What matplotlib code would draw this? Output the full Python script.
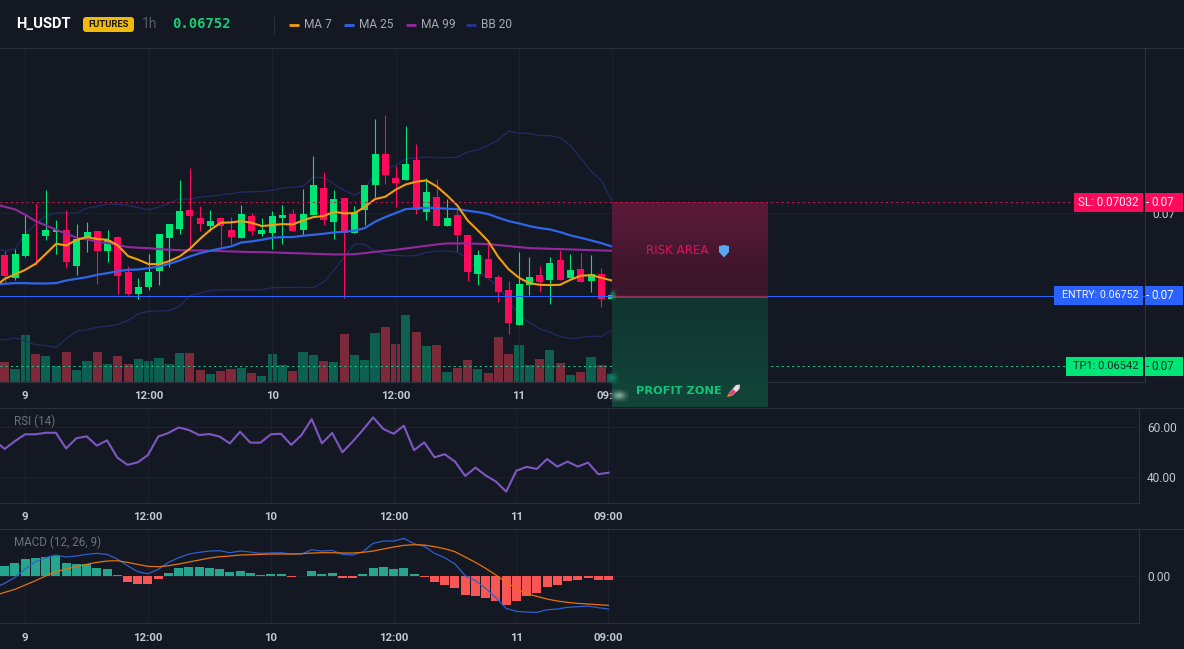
import numpy as np
import matplotlib
matplotlib.use('Agg')
import matplotlib.pyplot as plt
from matplotlib.patches import FancyBboxPatch, Polygon, Rectangle

W, H = 1184, 649

TICK = 1e-5  # prices below are whole ticks of 0.00001

SL = 0.07032
ENTRY = 0.06752
TP = 0.06542
ZONE_FLOOR = 0.06418
ZONE_END = 72.1

# hours counted from the start of day 9; the indicator lines start one bar earlier
bars = np.arange(-2, 58)
line_bars = np.arange(-3, 58)

opens = [6873, 6805, 6870, 6935, 6930, 6942, 6948, 6841, 6928, 6945,
         6886, 6927, 6822, 6757, 6777, 6826, 6925, 6951, 7008, 6984,
         6960, 6984, 6948, 6925, 6990, 6938, 6939, 6985, 6996, 6948,
         6993, 7076, 6973, 7046, 6940, 7008, 7083, 7176, 7106, 7098,
         7160, 7003, 7049, 6960, 6995, 6933, 6817, 6861, 6807, 6768,
         6663, 6783, 6813, 6798, 6858, 6804, 6831, 6795, 6816, 6742]
highs = [6886, 6893, 6998, 7030, 7068, 6978, 7010, 6968, 6972, 6945,
         6950, 6930, 6840, 6804, 6878, 6938, 6966, 7100, 7136, 7020,
         7008, 6988, 6988, 7025, 7000, 6986, 7005, 7025, 7013, 7073,
         7170, 7122, 7068, 7046, 7020, 7083, 7281, 7293, 7140, 7260,
         7206, 7106, 7101, 7043, 7013, 6933, 6888, 6908, 6813, 6795,
         6882, 6868, 6841, 6868, 6888, 6876, 6881, 6873, 6834, 6783]
lows = [6793, 6798, 6868, 6843, 6920, 6876, 6835, 6814, 6883, 6788,
        6853, 6758, 6753, 6742, 6768, 6783, 6838, 6936, 6898, 6946,
        6946, 6900, 6906, 6925, 6933, 6930, 6891, 6906, 6946, 6933,
        6993, 6965, 6923, 6746, 6940, 6963, 7048, 7088, 7018, 7098,
        6998, 6978, 6960, 6960, 6886, 6796, 6784, 6805, 6733, 6638,
        6663, 6753, 6762, 6728, 6798, 6804, 6794, 6762, 6718, 6742]
closes = [6811, 6876, 6936, 6933, 6950, 6950, 6853, 6923, 6942, 6886,
          6920, 6811, 6758, 6777, 6822, 6936, 6966, 7005, 6991, 6966,
          6975, 6960, 6927, 6998, 6945, 6948, 6990, 6993, 6946, 6996,
          7083, 6978, 7041, 6941, 7003, 7083, 7176, 7114, 7090, 7148,
          7008, 7062, 6960, 6984, 6934, 6823, 6873, 6805, 6762, 6670,
          6786, 6807, 6792, 6849, 6798, 6828, 6794, 6816, 6742, 6753]
volumes = [58, 37, 140, 82, 77, 47, 89, 35, 62, 89,
           52, 77, 52, 68, 62, 71, 52, 86, 86, 35,
           23, 32, 37, 41, 26, 17, 82, 49, 32, 89,
           80, 62, 59, 143, 80, 65, 146, 164, 113, 200,
           149, 107, 110, 29, 41, 65, 38, 26, 134, 83,
           110, 50, 68, 95, 56, 20, 29, 74, 50, 23]

ma7 = [6778, 6803, 6816, 6830, 6848, 6878, 6908, 6903, 6920, 6928, 6922,
       6920, 6903, 6871, 6860, 6847, 6847, 6856, 6870, 6893, 6923,
       6950, 6971, 6972, 6976, 6971, 6961, 6964, 6967, 6966, 6978,
       6988, 6991, 7004, 6999, 7000, 7018, 7042, 7049, 7070, 7086,
       7094, 7098, 7080, 7053, 7023, 6978, 6948, 6916, 6868, 6831,
       6806, 6790, 6785, 6784, 6785, 6800, 6812, 6814, 6806, 6798]
ma25 = [6785, 6788, 6790, 6790, 6789, 6789, 6790, 6798, 6803, 6808, 6815,
        6820, 6826, 6830, 6831, 6835, 6840, 6848, 6858, 6870, 6880,
        6887, 6894, 6900, 6912, 6915, 6920, 6926, 6928, 6928, 6932,
        6935, 6938, 6942, 6944, 6947, 6955, 6974, 6988, 7000, 7012,
        7014, 7016, 7015, 7013, 7012, 7007, 7003, 6997, 6986, 6976,
        6969, 6961, 6955, 6951, 6943, 6933, 6926, 6918, 6910, 6900]
ma99 = [7028, 7019, 7011, 6995, 6976, 6963, 6950, 6938, 6926, 6921, 6914,
        6910, 6904, 6898, 6896, 6895, 6892, 6890, 6889, 6888, 6888,
        6887, 6886, 6885, 6884, 6883, 6883, 6882, 6881, 6880, 6879,
        6878, 6877, 6876, 6876, 6877, 6880, 6884, 6887, 6890, 6894,
        6898, 6902, 6906, 6909, 6909, 6909, 6908, 6907, 6904, 6901,
        6898, 6895, 6894, 6893, 6892, 6891, 6890, 6889, 6888, 6887]
bb_upper = [6898, 6886, 6893, 6938, 6966, 6993, 7000, 7000, 7000, 7015, 7020,
            7028, 7026, 7023, 7016, 7010, 7018, 7030, 7043, 7042, 7048,
            7051, 7055, 7058, 7063, 7064, 7065, 7068, 7075, 7078, 7080,
            7108, 7106, 7088, 7068, 7054, 7070, 7123, 7133, 7143, 7163,
            7166, 7168, 7166, 7166, 7168, 7183, 7190, 7203, 7220, 7246,
            7240, 7239, 7233, 7232, 7226, 7203, 7163, 7126, 7098, 7038]
bb_lower = [6622, 6620, 6626, 6616, 6605, 6603, 6597, 6623, 6646, 6650, 6658,
            6661, 6666, 6678, 6698, 6706, 6706, 6708, 6720, 6753, 6760,
            6768, 6770, 6770, 6770, 6770, 6770, 6776, 6777, 6777, 6778,
            6776, 6793, 6828, 6868, 6908, 6906, 6886, 6876, 6873, 6871,
            6873, 6882, 6886, 6886, 6883, 6863, 6828, 6803, 6778, 6738,
            6693, 6673, 6653, 6643, 6630, 6624, 6626, 6631, 6630, 6648]

rsi = [54.5, 51.2, 54.3, 57.0, 57.0, 57.6, 57.6, 51.4, 55.4, 56.2, 52.5,
       54.6, 47.8, 44.9, 45.9, 48.8, 56.1, 57.5, 59.7, 58.7, 56.7,
       57.1, 56.1, 53.4, 58.0, 53.7, 53.7, 57.0, 57.2, 52.8, 56.7,
       63.0, 53.4, 57.5, 49.9, 54.1, 58.7, 63.7, 59.1, 57.2, 60.4,
       50.7, 53.8, 47.9, 49.1, 46.2, 40.5, 43.8, 40.7, 38.3, 34.3,
       42.6, 44.1, 43.3, 47.2, 44.2, 46.2, 44.2, 45.8, 41.2, 41.8]

macd = [-36, -23, -5, 20, 42, 54, 62, 56, 59, 64, 67,
        64, 50, 30, 12, 6, 19, 40, 54, 65, 70,
        74, 75, 69, 74, 71, 67, 68, 69, 65, 65,
        78, 74, 76, 64, 62, 72, 97, 104, 104, 112,
        96, 88, 67, 54, 35, 0, -15, -38, -66, -98,
        -107, -109, -110, -102, -100, -95, -93, -91, -96, -100]
signal = [-60, -50, -41, -28, -15, -1, 12, 20, 27, 34, 40,
          44, 45, 40, 34, 28, 27, 30, 35, 41, 47,
          53, 57, 59, 62, 63, 64, 65, 65, 65, 66,
          68, 69, 69, 68, 68, 70, 74, 80, 86, 91,
          93, 92, 87, 81, 72, 56, 40, 22, 2, -20,
          -38, -54, -62, -70, -76, -80, -83, -85, -87, -89]
macd_hist = [29, 38, 50, 53, 56, 58, 38, 35, 36, 23,
             20, 2, -18, -25, -25, -10, 8, 24, 27, 26,
             23, 20, 11, 14, 8, 2, 5, 5, -4, -2,
             14, 5, 8, -7, -7, 5, 23, 26, 20, 23,
             5, -5, -19, -28, -37, -58, -61, -67, -76, -88,
             -76, -61, -52, -34, -28, -16, -13, -7, -13, -13]

time_ticks = [0, 12, 24, 36, 48, 57]
time_labels = ['9', '12:00', '10', '12:00', '11', '09:00']

BG = '#131822'
GRID = '#1c222e'
BORDER = '#2b303b'
UP = '#00e676'
DOWN = '#ff0a5a'
AXIS_TEXT = '#c4c8d0'
UI_FONT = ['Roboto', 'DejaVu Sans']

opens, highs, lows, closes = [np.array(a) * TICK for a in (opens, highs, lows, closes)]
is_up = closes >= opens


def pane(left, top, right, bottom):
    ax = fig.add_axes([left / W, 1 - bottom / H, (right - left) / W, (bottom - top) / H])
    ax.set_facecolor(BG)
    ax.set_xlim(-2.459, 108.81)
    for side in ['top', 'left']:
        ax.spines[side].set_visible(False)
    for side in ['right', 'bottom']:
        ax.spines[side].set_color(BORDER)
        ax.spines[side].set_linewidth(0.8)
    ax.yaxis.tick_right()
    ax.set_axisbelow(True)
    ax.grid(True, color=GRID, lw=0.8)
    ax.set_xticks(time_ticks)
    ax.set_xticklabels(time_labels, fontweight='bold', family=UI_FONT)
    ax.tick_params(axis='x', length=0, pad=7, labelsize=8.2, labelcolor=AXIS_TEXT)
    ax.tick_params(axis='y', length=0, pad=6, labelsize=8.6, labelcolor=AXIS_TEXT)
    return ax


fig = plt.figure(figsize=(W / 100, H / 100), dpi=100, facecolor=BG)

# volume sits in its own axes behind the candles
ax_vol = pane(0, 48, 1144.5, 381.5)
ax_vol.grid(False)
ax_vol.set_ylim(0, 1000)
ax_vol.set_xticks([])
ax_vol.set_yticks([])
ax_vol.bar(bars, volumes, width=0.88, color=np.where(is_up, '#0f5f50', '#7c2a39'), zorder=2)

ax = pane(0, 48, 1144.5, 381.5)
ax.patch.set_visible(False)
ax.set_ylim(0.06495, 0.07495)
ax.set_yticks([0.07])
ax.set_yticklabels(['0.07'], family=UI_FONT)

ax.plot(line_bars, np.array(bb_upper) * TICK, color='#222c66', lw=0.9, zorder=2)
ax.plot(line_bars, np.array(bb_lower) * TICK, color='#222c66', lw=0.9, zorder=2)

colors = np.where(is_up, UP, DOWN)
ax.vlines(bars, lows, highs, colors=colors, lw=0.8, zorder=3)
ax.bar(bars, np.maximum(np.abs(closes - opens), 2 * TICK), bottom=np.minimum(opens, closes),
       width=0.68, color=colors, zorder=3)

ax.plot(line_bars, np.array(ma99) * TICK, color='#93299f', lw=1.5, zorder=4)
ax.plot(line_bars, np.array(ma25) * TICK, color='#2f66e8', lw=1.6, zorder=4)
ax.plot(line_bars, np.array(ma7) * TICK, color='#f59e0b', lw=1.5, zorder=4)

ax.axhline(ENTRY, color='#2962ff', lw=0.75, zorder=4.5)
ax.axhline(SL, color='#d80e50', lw=0.75, ls=(0, (2, 3)), zorder=5.2)
ax.axhline(TP, color='#12c98a', lw=0.75, ls=(0, (2, 3)), zorder=4.5)

# risk / profit boxes cover the last bar and run past the bottom of the pane
risk_shades = np.array([[[0.35, 0.10, 0.22]], [[0.28, 0.09, 0.19]], [[0.235, 0.09, 0.17]]])
ax.imshow(risk_shades, extent=(57, ZONE_END, ENTRY, SL), aspect='auto', zorder=5,
          interpolation='bicubic', clip_on=False)
profit_shades = np.array([[[0.07, 0.21, 0.195]], [[0.07, 0.235, 0.205]], [[0.07, 0.27, 0.22]]])
ax.imshow(profit_shades, extent=(57, ZONE_END, ZONE_FLOOR, ENTRY), aspect='auto', zorder=5,
          interpolation='bicubic', clip_on=False)
ax.plot([57, ZONE_END], [ENTRY - 3 * TICK] * 2, color='#a52f5e', lw=1.2, zorder=5.1, clip_on=False)
ax.set_xlim(-2.459, 108.81)
ax.set_ylim(0.06495, 0.07495)

ax_rsi = pane(0, 407.5, 1138.7, 502.5)
ax_rsi.set_ylim(30.0, 67.6)
ax_rsi.set_yticks([40, 60])
ax_rsi.set_yticklabels(['40.00', '60.00'], family=UI_FONT)
ax_rsi.plot(line_bars, rsi, color='#7e57c2', lw=1.5)

ax_macd = pane(0, 528.7, 1138.7, 623.3)
ax_macd.set_ylim(-142.8, 141)
ax_macd.set_yticks([0])
ax_macd.set_yticklabels(['0.00'], family=UI_FONT)
ax_macd.bar(bars, macd_hist, width=0.88, color=['#26a68f' if v >= 0 else '#f85555' for v in macd_hist], zorder=2)
ax_macd.plot(line_bars, macd, color='#2f5fd0', lw=0.9, zorder=3)
ax_macd.plot(line_bars, signal, color='#e8720c', lw=0.9, zorder=3)

# everything else is screen furniture placed in pixels
ov = fig.add_axes([0, 0, 1, 1], zorder=10)
ov.patch.set_visible(False)
ov.axis('off')
ov.set_xlim(0, W)
ov.set_ylim(H, 0)

ov.plot([0, W], [48, 48], color=BORDER, lw=0.8)
ov.plot([0, W], [407.5, 407.5], color=BORDER, lw=0.8)
ov.plot([0, W], [528.7, 528.7], color=BORDER, lw=0.8)


def blob(cx, cy, w, h, color, strength=1.0):
    # soft spot where a mark shows through the frosted box
    yy, xx = np.mgrid[-1:1:24j, -1:1:24j]
    alpha = np.exp(-(xx ** 2 + yy ** 2) * 2.2) * strength
    rgba = np.zeros((24, 24, 4))
    rgba[..., :3] = matplotlib.colors.to_rgb(color)
    rgba[..., 3] = alpha
    ov.imshow(rgba, extent=(cx - w / 2, cx + w / 2, cy + h / 2, cy - h / 2), aspect='auto', zorder=1)
    ov.set_xlim(0, W)
    ov.set_ylim(H, 0)


blob(619, 395.5, 20, 13, '#a8c4ba', 0.75)
blob(613, 378, 12, 14, '#0f8a68', 0.8)
blob(613, 295, 8, 12, '#19b47c', 0.7)


def price_tag(left, y, text, fill, ink, size):
    top = y - 9.3
    ov.add_patch(Rectangle((left, top), 1143.3 - left, 18.6, fc=fill, ec='none', zorder=3))
    ov.add_patch(Rectangle((1144.6, top), 38.4, 18.6, fc=fill, ec='none', zorder=3))
    ov.text(1138.5, y, text, color=ink, ha='right', va='center', fontsize=size, family=UI_FONT, zorder=4)
    ov.text(1146, y, '-', color=ink, ha='left', va='center', fontsize=8.4, family=UI_FONT, zorder=4)
    ov.text(1174.5, y, '0.07', color=ink, ha='right', va='center', fontsize=8.4, family=UI_FONT, zorder=4)


price_tag(1074, 202.3, 'SL: 0.07032', DOWN, '#f4f6fa', 8.3)
price_tag(1054, 295.3, 'ENTRY: 0.06752', '#2962ff', '#f4f6fa', 7.7)
price_tag(1066, 366.3, 'TP1: 0.06542', UP, '#0d2b22', 8.0)

# header row
ov.text(16, 24.5, 'H_USDT', color='white', fontsize=10.6, fontweight='bold', family=UI_FONT, va='center')
ov.add_patch(FancyBboxPatch((85, 19), 47, 11, boxstyle='round,pad=2,rounding_size=3', fc='#f0b90b', ec='none'))
ov.text(108.5, 24.8, 'FUTURES', color='#1a1a12', fontsize=6.8, fontweight='bold', family=UI_FONT, ha='center', va='center')
ov.text(142, 24.5, '1h', color='#565c68', fontsize=10, family=UI_FONT, va='center')
ov.text(172, 24.5, '0.06752', color='#12cf76', fontsize=10, fontweight='bold', family='DejaVu Sans Mono', va='center')
ov.plot([274, 274], [17, 33], color=BORDER, lw=0.8)

legend_items = [('MA 7', '#f59e0b', 289), ('MA 25', '#2f66e8', 344), ('MA 99', '#93299f', 406), ('BB 20', '#283593', 466)]
for name, col, x0 in legend_items:
    ov.plot([x0, x0 + 10], [24.5, 24.5], color=col, lw=2, solid_capstyle='butt')
    ov.text(x0 + 15, 24.5, name, color='#a3a8b3', fontsize=8.6, family=UI_FONT, va='center')

ov.text(14, 421.5, 'RSI (14)', color='#6c717c', fontsize=8.4, family=UI_FONT, va='center')
ov.text(14, 542, 'MACD (12, 26, 9)', color='#6c717c', fontsize=8.4, family=UI_FONT, va='center')

# box captions and their little icons
ov.text(646, 250.5, 'RISK AREA', color='#e60f5a', fontsize=8.6, family='DejaVu Sans', va='center')
ov.add_patch(Polygon([(719, 246), (724, 245), (729, 246), (729, 252), (724, 257.5), (719, 252)],
                     fc='#5aa8f0', ec='none'))
ov.text(636, 390.5, 'PROFIT ZONE', color='#12c47a', fontsize=8.2, fontweight='bold', family='DejaVu Sans', va='center')
ov.add_patch(Polygon([(729, 393), (736, 385), (740, 384.5), (739.5, 389), (732, 396)], fc='#f4d6e4', ec='none'))
ov.add_patch(Polygon([(733, 389), (736, 392), (732, 396), (729, 393)], fc='#e0457f', ec='none'))
ov.add_patch(Polygon([(727, 397), (728.5, 393.5), (731.5, 396)], fc='#f08a30', ec='none'))

plt.savefig('out.png', dpi=100, facecolor=BG)
